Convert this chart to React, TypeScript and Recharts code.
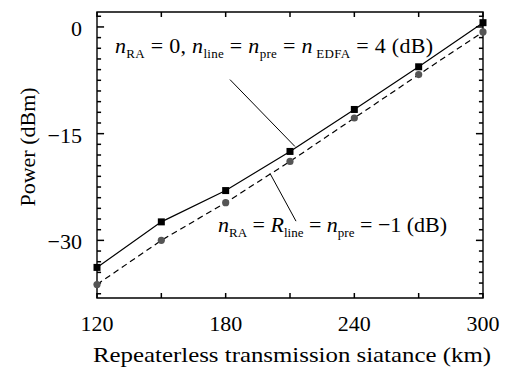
import React from "react";
import { LineChart, Line, XAxis, YAxis, ReferenceLine, ReferenceArea } from "recharts";

// transmission distance (km)
const distance = [120, 150, 180, 210, 240, 270, 300];
// n_RA = 0, n_line = n_pre = n_EDFA = 4 dB
const powerNominal = [-33.8, -27.4, -23.0, -17.5, -11.6, -5.6, 0.6];
// n_RA = R_line = n_pre = -1 dB
const powerReduced = [-36.2, -30.0, -24.7, -18.9, -12.8, -6.7, -0.7];

const xMajor = [120, 180, 240, 300];
const xTicks = [120, 150, 180, 210, 240, 270, 300];
const yMajor = [0, -15, -30];
const yTicks = [
  1.5, 0, -1.5, -3, -4.5, -6, -7.5, -9, -10.5, -12, -13.5, -15, -16.5, -18, -19.5,
  -21, -22.5, -24, -25.5, -27, -28.5, -30, -31.5, -33, -34.5, -36, -37.5,
];
const xDomain = [120, 300];
const yDomain = [-38.1, 2.1];

const data = distance.map((d, i) => ({ x: d, a: powerNominal[i], b: powerReduced[i] }));

const FONT = "'Liberation Serif', 'Times New Roman', serif";

// inward tick lengths, in data units (~5px, ~7px, ~4px)
const X_TICK_LEN = 0.7;
const Y_MAJOR_LEN = 3.3;
const Y_MINOR_LEN = 1.9;

function LeftLabel(props: any) {
  const { x, y, payload } = props;
  const v = payload.value;
  if (!yMajor.includes(v)) return <g />;
  return (
    <text x={x - 15} y={y + 9} textAnchor="end" fontSize={22} fontFamily={FONT} fill="#000">
      {v < 0 ? `\u2212${Math.abs(v)}` : v}
    </text>
  );
}

function BottomLabel(props: any) {
  const { x, y, payload } = props;
  const v = payload.value;
  if (!xMajor.includes(v)) return <g />;
  return (
    <text x={x} y={y + 33} textAnchor="middle" fontSize={22} fontFamily={FONT} fill="#000">
      {v}
    </text>
  );
}

function XTitle() {
  return (
    <text x={292} y={362} textAnchor="middle" fontSize={22} fontFamily={FONT} fill="#000"
      textLength={398} lengthAdjust="spacingAndGlyphs">
      Repeaterless transmission siatance (km)
    </text>
  );
}

function YTitle() {
  return (
    <text x={35} y={147} transform="rotate(-90 35 147)" textAnchor="middle"
      fontSize={22} fontFamily={FONT} fill="#000">
      Power (dBm)
    </text>
  );
}

const sub = { fontSize: 13 };

function NoteUpper() {
  return (
    <text x={115} y={53} fontSize={22} fontFamily={FONT} fill="#000"
      textLength={318} lengthAdjust="spacing" style={{ whiteSpace: "pre" }}>
      <tspan fontStyle="italic">n</tspan>
      <tspan {...sub} dy={5}>RA</tspan>
      <tspan dy={-5}>{" = 0, "}</tspan>
      <tspan fontStyle="italic">n</tspan>
      <tspan {...sub} dy={5}>line</tspan>
      <tspan dy={-5}>{" = "}</tspan>
      <tspan fontStyle="italic">n</tspan>
      <tspan {...sub} dy={5}>pre</tspan>
      <tspan dy={-5}>{" = "}</tspan>
      <tspan fontStyle="italic">n</tspan>
      <tspan {...sub} dy={5}>{" EDFA"}</tspan>
      <tspan dy={-5}>{" = 4 (dB)"}</tspan>
    </text>
  );
}

function NoteLower() {
  return (
    <text x={218} y={232} fontSize={22} fontFamily={FONT} fill="#000" style={{ whiteSpace: "pre" }}>
      <tspan fontStyle="italic">n</tspan>
      <tspan {...sub} dy={5}>RA</tspan>
      <tspan dy={-5}>{" = "}</tspan>
      <tspan fontStyle="italic">R</tspan>
      <tspan {...sub} dy={5}>line</tspan>
      <tspan dy={-5}>{" = "}</tspan>
      <tspan fontStyle="italic">n</tspan>
      <tspan {...sub} dy={5}>pre</tspan>
      <tspan dy={-5}>{" = \u22121 (dB)"}</tspan>
    </text>
  );
}

function SquareDot(props: any) {
  const { cx, cy } = props;
  if (cx == null || cy == null) return null;
  return <rect x={cx - 3.5} y={cy - 3.5} width={7} height={7} fill="#000" />;
}

export default function App() {
  const [yLo, yHi] = yDomain;
  const [xLo, xHi] = xDomain;
  const yLen = (t: number) => (yMajor.includes(t) ? Y_MAJOR_LEN : Y_MINOR_LEN);

  return (
    <div style={{ position: "absolute", left: 0, top: 0 }}>
      <LineChart width={507} height={369} data={data} margin={{ top: 12, right: 24, left: 0, bottom: 0 }}>
        <XAxis
          xAxisId="bottom"
          dataKey="x"
          type="number"
          domain={xDomain}
          ticks={xTicks}
          interval={0}
          height={71}
          tickSize={0}
          tickMargin={0}
          tickLine={false}
          axisLine={false}
          tick={(p: any) => <BottomLabel {...p} />}
          label={<XTitle />}
        />
        <YAxis
          yAxisId="left"
          type="number"
          domain={yDomain}
          ticks={yTicks}
          interval={0}
          width={97}
          tickSize={0}
          tickMargin={0}
          tickLine={false}
          axisLine={false}
          tick={(p: any) => <LeftLabel {...p} />}
          label={<YTitle />}
        />
        <ReferenceArea xAxisId="bottom" yAxisId="left" x1={xLo} x2={xHi} y1={yLo} y2={yHi}
          fill="none" stroke="#000" strokeWidth={1.4} ifOverflow="visible" />
        {xTicks.map((t) => (
          <ReferenceLine key={`xb${t}`} xAxisId="bottom" yAxisId="left"
            segment={[{ x: t, y: yLo }, { x: t, y: yLo + X_TICK_LEN }]}
            stroke="#000" strokeWidth={1.5} ifOverflow="visible" />
        ))}
        {xTicks.map((t) => (
          <ReferenceLine key={`xt${t}`} xAxisId="bottom" yAxisId="left"
            segment={[{ x: t, y: yHi }, { x: t, y: yHi - X_TICK_LEN }]}
            stroke="#000" strokeWidth={1.5} ifOverflow="visible" />
        ))}
        {yTicks.map((t, i) => (
          <ReferenceLine key={`yl${i}`} xAxisId="bottom" yAxisId="left"
            segment={[{ x: xLo, y: t }, { x: xLo + yLen(t), y: t }]}
            stroke="#000" strokeWidth={1.5} ifOverflow="visible" />
        ))}
        {yTicks.map((t, i) => (
          <ReferenceLine key={`yr${i}`} xAxisId="bottom" yAxisId="left"
            segment={[{ x: xHi, y: t }, { x: xHi - yLen(t), y: t }]}
            stroke="#000" strokeWidth={1.5} ifOverflow="visible" />
        ))}
        <ReferenceLine
          xAxisId="bottom"
          yAxisId="left"
          segment={[{ x: 182.0, y: -7.4 }, { x: 212.3, y: -16.8 }]}
          stroke="#000"
          strokeWidth={1}
          ifOverflow="visible"
          label={<NoteUpper />}
        />
        <ReferenceLine
          xAxisId="bottom"
          yAxisId="left"
          segment={[{ x: 200.7, y: -20.6 }, { x: 212.8, y: -27.3 }]}
          stroke="#000"
          strokeWidth={1}
          ifOverflow="visible"
          label={<NoteLower />}
        />
        <Line
          xAxisId="bottom"
          yAxisId="left"
          dataKey="a"
          stroke="#000"
          strokeWidth={1.2}
          dot={<SquareDot />}
          activeDot={false}
          isAnimationActive={false}
        />
        <Line
          xAxisId="bottom"
          yAxisId="left"
          dataKey="b"
          stroke="#000"
          strokeWidth={1.2}
          strokeDasharray="6 4"
          dot={{ r: 3.6, fill: "#555", stroke: "#555", strokeWidth: 0 }}
          activeDot={false}
          isAnimationActive={false}
        />
      </LineChart>
    </div>
  );
}
